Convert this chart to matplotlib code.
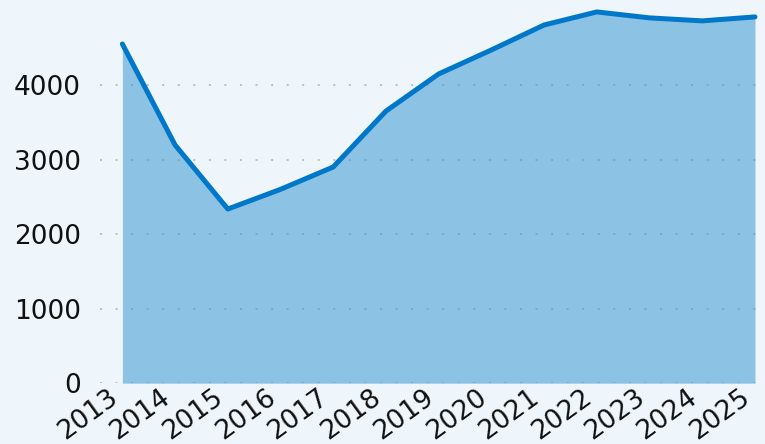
"""
Yearly totals 2013-2025 as a filled line chart
"""

import matplotlib
matplotlib.use('Agg')
import matplotlib.pyplot as plt

# Data
years = [2013, 2014, 2015, 2016, 2017, 2018, 2019,
         2020, 2021, 2022, 2023, 2024, 2025]
values = [4550, 3195, 2336, 2600, 2900, 3650, 4148,
          4470, 4805, 4980, 4900, 4860, 4913]
y_ticks = [0, 1000, 2000, 3000, 4000]

# Style
BACKGROUND = '#eef6fc'
FILL_COLOR = '#8cc3e5'
LINE_COLOR = '#0077c8'
GRID_COLOR = '#7f8790'
DPI = 100


def make_chart():
    fig = plt.figure(figsize=(7.65, 4.44), dpi=DPI)
    fig.patch.set_facecolor(BACKGROUND)
    ax = fig.add_axes([0.131, 0.137, 0.869, 0.863])
    ax.set_facecolor(BACKGROUND)

    ax.fill_between(years, values, 0, color=FILL_COLOR, linewidth=0, zorder=1)
    ax.plot(years, values, color=LINE_COLOR, linewidth=3.6,
            solid_capstyle='round', solid_joinstyle='round', zorder=3)

    ax.set_xlim(2012.58, 2025.19)
    ax.set_ylim(0, 5140)

    ax.set_yticks(y_ticks)
    ax.set_yticklabels([str(v) for v in y_ticks])
    ax.set_xticks(years)
    ax.set_xticklabels([str(y) for y in years], rotation=36, ha='right')
    ax.tick_params(axis='both', length=0, labelsize=19, colors='#111111')
    ax.tick_params(axis='x', pad=1)
    ax.tick_params(axis='y', pad=14)

    # dotted grid sits above the fill but under the line
    ax.yaxis.grid(True, color=GRID_COLOR, alpha=0.5, linestyle=(0, (1, 7)), linewidth=1.4)
    ax.xaxis.grid(False)
    ax.yaxis.set_zorder(2)
    ax.xaxis.set_zorder(2)
    for spine in ax.spines.values():
        spine.set_visible(False)

    fig.savefig('out.png', dpi=DPI, facecolor=BACKGROUND)


if __name__ == "__main__":
    make_chart()
